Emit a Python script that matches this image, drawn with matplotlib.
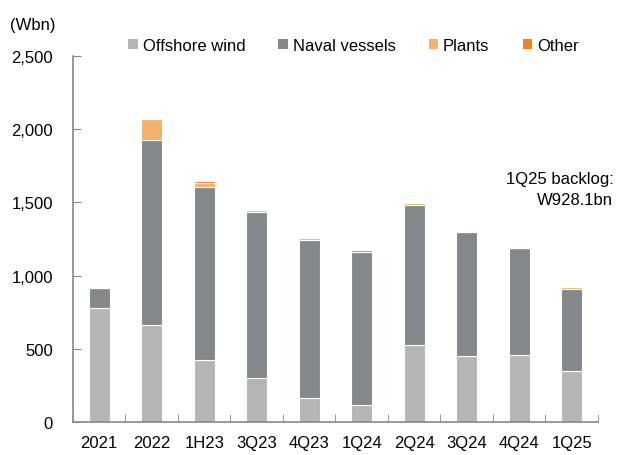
import numpy as np
import matplotlib.pyplot as plt
from matplotlib.patches import Patch
from matplotlib.ticker import FuncFormatter, MultipleLocator

plt.rcParams['font.family'] = ['Liberation Sans', 'DejaVu Sans']

periods = ['2021', '2022', '1H23', '3Q23', '4Q23', '1Q24', '2Q24', '3Q24', '4Q24', '1Q25']
offshore_wind = [781, 667, 426, 303, 169, 119, 526, 451, 458, 351]
naval_vessels = [138, 1262, 1178, 1135, 1078, 1046, 960, 848, 732, 562]
plants = [0, 141, 30, 10, 12, 0, 12, 0, 0, 12]
other = [0, 0, 12, 6, 0, 12, 0, 0, 0, 3]

series_names = ['Offshore wind', 'Naval vessels', 'Plants', 'Other']
colors = ['#b4b5b7', '#85888a', '#f2b26b', '#f58220']

fig = plt.figure(figsize=(6.17, 4.56), dpi=100)
ax = fig.add_axes([0.1183, 0.0713, 0.8507, 0.8041])

x = np.arange(len(periods))
bottom = np.zeros(len(periods))
for vals, name, c in zip([offshore_wind, naval_vessels, plants, other], series_names, colors):
    vals = np.array(vals, dtype=float)
    ax.bar(x, vals, 0.4, bottom=bottom, color=c, edgecolor='white', linewidth=0.8, label=name)
    bottom += vals

ax.set_xlim(-0.5, 9.5)
ax.set_ylim(0, 2500)
ax.yaxis.set_major_locator(MultipleLocator(500))
ax.yaxis.set_major_formatter(FuncFormatter(lambda v, p: f'{int(v):,}'))
ax.set_xticks(x)
ax.set_xticklabels(periods)
ax.set_xticks(np.arange(-0.5, 10, 1), minor=True)
ax.tick_params(axis='x', which='major', length=0, pad=9, labelsize=12)
ax.tick_params(axis='x', which='minor', direction='in', length=6, color='#888888')
ax.tick_params(axis='y', direction='in', length=6, color='#888888', pad=14.4, labelsize=12)
for s in ['top', 'right']:
    ax.spines[s].set_visible(False)
for s in ['left', 'bottom']:
    ax.spines[s].set_color('#888888')
    ax.spines[s].set_linewidth(1.2)

fig.text(0.016, 0.945, '(Wbn)', fontsize=12, va='center', ha='left')
fig.text(0.994, 0.583, '1Q25 backlog:\nW928.1bn', fontsize=12, ha='right', va='center',
         linespacing=1.5)

handles = [Patch(facecolor=c, edgecolor='none') for c in colors]
fig.legend(handles, series_names, loc='center left', bbox_to_anchor=(0.208, 0.899), ncol=4,
           frameon=False, fontsize=12, handlelength=0.55, handleheight=0.55,
           handletextpad=0.3, columnspacing=2.0, borderaxespad=0, borderpad=0)

fig.savefig('out.png', dpi=100)
